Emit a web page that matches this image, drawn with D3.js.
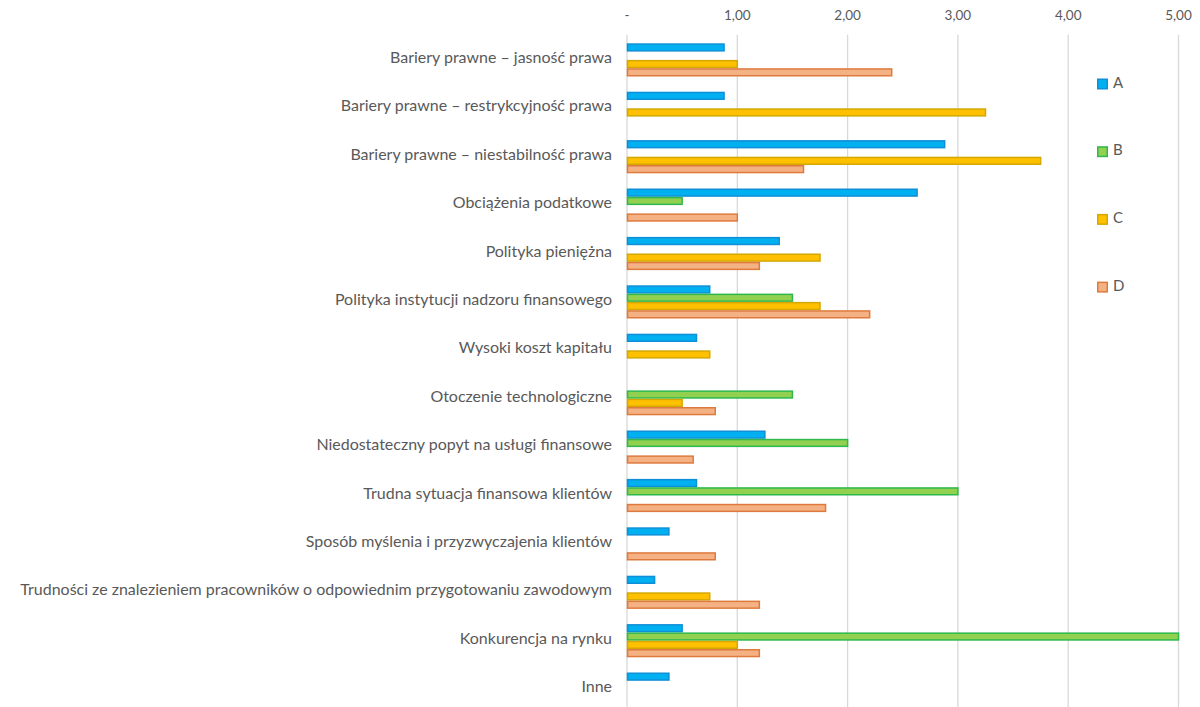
<!DOCTYPE html>
<html>
<head>
<meta charset="utf-8">
<script src="https://cdn.jsdelivr.net/npm/d3@7"></script>
<style>
  body { margin: 0; background: #fff; }
  svg text { font-family: Lato, "Open Sans", sans-serif; fill: #595959; }
</style>
</head>
<body>
<div id="chart"></div>
<script>
// categories, top to bottom
var categories = [
  'Bariery prawne \u2013 jasność prawa',
  'Bariery prawne \u2013 restrykcyjność prawa',
  'Bariery prawne \u2013 niestabilność prawa',
  'Obciążenia podatkowe',
  'Polityka pieniężna',
  'Polityka instytucji nadzoru finansowego',
  'Wysoki koszt kapitału',
  'Otoczenie technologiczne',
  'Niedostateczny popyt na usługi finansowe',
  'Trudna sytuacja finansowa klientów',
  'Sposób myślenia i przyzwyczajenia klientów',
  'Trudności ze znalezieniem pracowników o odpowiednim przygotowaniu zawodowym',
  'Konkurencja na rynku',
  'Inne'
]
var seriesNames = ['A', 'B', 'C', 'D']
// values per series, same order as categories (0 = no bar)
var valuesA = [0.88, 0.88, 2.88, 2.63, 1.38, 0.75, 0.63, 0, 1.25, 0.63, 0.38, 0.25, 0.5, 0.38]
var valuesB = [0, 0, 0, 0.5, 0, 1.5, 0, 1.5, 2.0, 3.0, 0, 0, 5.0, 0]
var valuesC = [1.0, 3.25, 3.75, 0, 1.75, 1.75, 0.75, 0.5, 0, 0, 0, 0.75, 1.0, 0]
var valuesD = [2.4, 0, 1.6, 1.0, 1.2, 2.2, 0, 0.8, 0.6, 1.8, 0.8, 1.2, 1.2, 0]
var tickValues = [0, 1, 2, 3, 4, 5]
var tickLabels = ['-', '1,00', '2,00', '3,00', '4,00', '5,00']

var fills = { A: '#00B0F0', B: '#92D050', C: '#FFC000', D: '#F4B183' }
var strokes = { A: '#0F8FD8', B: '#2EB84E', C: '#D4A800', D: '#DE7A3E' }

var width = 1200, height = 707
var plotLeft = 627, plotRight = 1178.5
var plotTop = 35.7, step = 48.4

var svg = d3.select('#chart').append('svg')
  .attr('width', width)
  .attr('height', height)

var x = d3.scaleLinear().domain([0, 5]).range([plotLeft, plotRight])

var y = d3.scaleBand()
  .domain(categories)
  .range([plotTop, plotTop + step * categories.length])
  .paddingInner(0.314)
  .paddingOuter(0.157)

var ySub = d3.scaleBand()
  .domain(seriesNames)
  .range([0, y.bandwidth()])

// gridlines
svg.append('g').selectAll('line')
  .data(tickValues)
  .join('line')
  .attr('x1', d => x(d)).attr('x2', d => x(d))
  .attr('y1', plotTop - 1).attr('y2', height)
  .attr('stroke', '#d9d9d9')
  .attr('stroke-width', 1.3)

// top axis labels
svg.append('g').selectAll('text')
  .data(tickValues)
  .join('text')
  .attr('x', d => x(d))
  .attr('y', 17)
  .attr('text-anchor', 'middle')
  .attr('dominant-baseline', 'middle')
  .style('font-size', '13.5px')
  .text((d, i) => tickLabels[i])

// category labels
var labels = svg.append('g').selectAll('text')
  .data(categories)
  .join('text')
  .attr('x', 612)
  .attr('y', d => y(d) + y.bandwidth() / 2 - 1)
  .attr('text-anchor', 'end')
  .attr('dominant-baseline', 'middle')
  .style('font-size', '14px')
  .text(d => d)

// fit the longest label to the width it has in the original (x 20..612)
var widest = d3.max(labels.nodes(), n => n.getComputedTextLength())
labels.style('font-size', (14 * 592 / widest).toFixed(2) + 'px')

// bars
var seriesData = { A: valuesA, B: valuesB, C: valuesC, D: valuesD }
var rows = []
seriesNames.forEach(s => {
  seriesData[s].forEach((v, i) => {
    if (v > 0) rows.push({ series: s, cat: categories[i], value: v })
  })
})

svg.append('g').selectAll('rect')
  .data(rows)
  .join('rect')
  .attr('x', x(0) + 0.5)
  .attr('y', d => y(d.cat) + ySub(d.series) + 0.75)
  .attr('width', d => x(d.value) - x(0) - 0.5)
  .attr('height', ySub.bandwidth() - 1.5)
  .attr('fill', d => fills[d.series])
  .attr('stroke', d => strokes[d.series])
  .attr('stroke-width', 1.5)

// legend
var legend = svg.append('g').selectAll('g')
  .data(seriesNames)
  .join('g')
  .attr('transform', (d, i) => 'translate(1097,' + (84 + i * 67.7) + ')')

legend.append('rect')
  .attr('x', 0.75).attr('y', -4.75)
  .attr('width', 9.5).attr('height', 9.5)
  .attr('fill', d => fills[d])
  .attr('stroke', d => strokes[d])
  .attr('stroke-width', 1.5)

legend.append('text')
  .attr('x', 16)
  .attr('y', 0)
  .attr('dominant-baseline', 'middle')
  .style('font-size', '15px')
  .text(d => d)
</script>
</body>
</html>
